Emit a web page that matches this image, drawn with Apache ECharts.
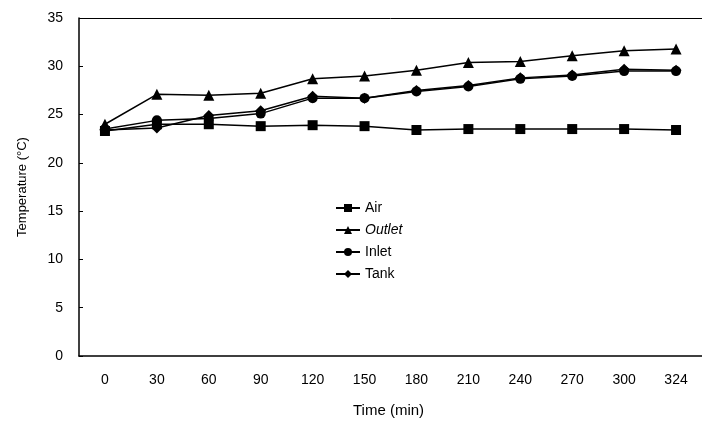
<!DOCTYPE html>
<html>
<head>
<meta charset="utf-8">
<script src="https://cdn.jsdelivr.net/npm/echarts@6/dist/echarts.min.js"></script>
<style>
	html, body { margin: 0; padding: 0; background: #fff; }
	#chart { width: 702px; height: 423px; }
</style>
</head>
<body>
<div id="chart"></div>
<script>
var times = ['0', '30', '60', '90', '120', '150', '180', '210', '240', '270', '300', '324'];
var air = [23.3, 24.0, 24.0, 23.8, 23.9, 23.8, 23.4, 23.5, 23.5, 23.5, 23.5, 23.4];
var outlet = [24.0, 27.1, 27.0, 27.2, 28.7, 29.0, 29.6, 30.4, 30.5, 31.1, 31.6, 31.8];
var inlet = [23.5, 24.4, 24.6, 25.1, 26.7, 26.7, 27.4, 27.9, 28.7, 29.0, 29.5, 29.5];
var tank = [23.4, 23.6, 24.9, 25.4, 26.9, 26.7, 27.5, 28.0, 28.8, 29.1, 29.7, 29.6];
var yTicks = [0, 5, 10, 15, 20, 25, 30, 35];

var font = 'Liberation Sans, Arial, sans-serif';

function mkSeries(name, data, symbol, size) {
	return {
		name: name,
		type: 'line',
		data: data,
		symbol: symbol,
		symbolSize: size,
		itemStyle: { color: '#000' },
		lineStyle: { color: '#000', width: 1.5 }
	};
}

var myChart = echarts.init(document.getElementById('chart'));

var option = {
	backgroundColor: '#fff',
	animation: false,
	textStyle: { fontFamily: font, color: '#000' },
	grid: { left: 79, top: 18, width: 631, height: 344, containLabel: false },
	legend: {
		left: 330,
		top: 196,
		orient: 'vertical',
		itemGap: 8,
		itemWidth: 24,
		itemHeight: 10,
		textStyle: { fontFamily: font, fontSize: 14, color: '#000' },
		data: [
			{ name: 'Air' },
			{ name: 'Outlet', textStyle: { fontStyle: 'italic' } },
			{ name: 'Inlet' },
			{ name: 'Tank' }
		]
	},
	xAxis: {
		type: 'category',
		data: times,
		boundaryGap: true,
		name: 'Time (min)',
		nameLocation: 'middle',
		nameGap: 47,
		nameTextStyle: { fontFamily: font, fontSize: 15, color: '#000', padding: [0, 0, 0, -4] },
		axisLine: { lineStyle: { color: '#000', width: 1.5 } },
		axisTick: { show: false },
		axisLabel: { fontFamily: font, fontSize: 14, color: '#000', margin: 17 },
		splitLine: { show: false }
	},
	yAxis: {
		type: 'value',
		min: yTicks[0],
		max: yTicks[yTicks.length - 1],
		interval: 5,
		name: 'Temperature (°C)',
		nameLocation: 'middle',
		nameGap: 50,
		nameTextStyle: { fontFamily: font, fontSize: 13, color: '#000' },
		axisLine: { show: true, lineStyle: { color: '#000', width: 1.5 } },
		axisTick: { show: true, inside: true, length: 4, lineStyle: { color: '#000' } },
		axisLabel: { fontFamily: font, fontSize: 14, color: '#000', margin: 16 },
		splitLine: { show: true, lineStyle: { color: '#000', width: 1 }, showMinLine: false }
	},
	series: [
		mkSeries('Air', air, 'rect', 10),
		mkSeries('Outlet', outlet, 'triangle', 11),
		mkSeries('Inlet', inlet, 'circle', 10),
		mkSeries('Tank', tank, 'diamond', 11)
	]
};

// only the top gridline is drawn, as the frame
option.yAxis.splitLine.lineStyle.color = ['transparent', 'transparent', 'transparent', 'transparent', 'transparent', 'transparent', '#000'];

myChart.setOption(option);
</script>
</body>
</html>
